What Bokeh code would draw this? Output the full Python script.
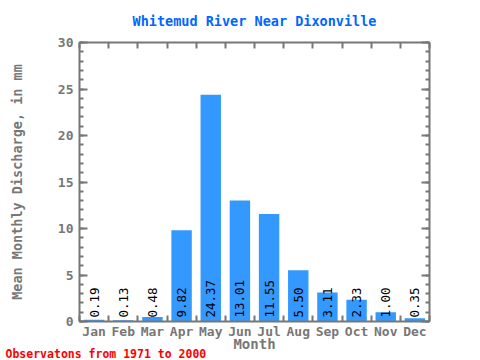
from bokeh.plotting import figure
from bokeh.models import LinearAxis, FixedTicker, Range1d, Title, ColumnDataSource
from bokeh.core.properties import value
from bokeh.embed import file_html
from bokeh.resources import INLINE
import math

months = ["Jan", "Feb", "Mar", "Apr", "May", "Jun", "Jul", "Aug", "Sep", "Oct", "Nov", "Dec"]
discharge = [0.19, 0.13, 0.48, 9.82, 24.37, 13.01, 11.55, 5.50, 3.11, 2.33, 1.00, 0.35]
y_ticks = [0, 5, 10, 15, 20, 25, 30]
title_text = "Whitemud River Near Dixonville"
x_label = "Month"
y_label = "Mean Monthly Discharge, in mm"
footer_text = "Observatons from 1971 to 2000"

FONT = "DejaVu Sans Mono"
AX = "#777777"

xs = list(range(1, len(months) + 1))
src = ColumnDataSource(dict(x=xs, y=discharge, lab=["%.2f" % v for v in discharge],
                            y0=[0] * len(xs)))

p = figure(width=480, height=360, output_backend="svg", toolbar_location=None,
           x_range=Range1d(0.5, 12.5), y_range=Range1d(0, 30),
           x_axis_type=None, y_axis_type=None,
           min_border_left=79, min_border_right=51, min_border_top=42, min_border_bottom=39)
p.outline_line_color = None
p.background_fill_color = "white"

p.title.text = title_text
p.title.align = "center"
p.title.vertical_align = "top"
p.title.text_font = FONT
p.title.text_font_style = "bold"
p.title.text_font_size = "13.5px"
p.title.text_color = "#0066ff"
p.title.standoff = 23

p.vbar(x="x", top="y", width=0.7, source=src, fill_color="#3399ff", line_color=None)
p.text(x="x", y="y0", text="lab", source=src, angle=math.pi / 2, text_align="left",
       text_baseline="middle", y_offset=-4, text_font=value(FONT), text_font_size="12.5px",
       text_color="black")

xt = FixedTicker(ticks=xs, minor_ticks=[i + 0.5 for i in range(0, 13)])
yt = FixedTicker(ticks=y_ticks, minor_ticks=list(range(0, 31)))

def style(ax, labels=True):
    ax.axis_line_color = AX
    ax.axis_line_width = 2
    ax.major_tick_line_color = AX
    ax.major_tick_line_width = 2
    ax.minor_tick_line_color = AX
    ax.minor_tick_line_width = 2
    ax.major_tick_out = 0
    ax.minor_tick_out = 0
    ax.major_label_text_font = FONT
    ax.major_label_text_font_style = "bold"
    ax.major_label_text_color = AX
    ax.major_label_text_font_size = "13px"
    ax.axis_label_text_font = FONT
    ax.axis_label_text_font_style = "bold"
    ax.axis_label_text_color = AX
    ax.axis_label_text_font_size = "13.5px"
    if not labels:
        ax.major_label_text_alpha = 0
        ax.major_label_text_font_size = "1px"
        ax.major_label_standoff = 0

bottom = LinearAxis(ticker=xt, major_label_overrides={i: m for i, m in zip(xs, months)})
style(bottom)
bottom.major_tick_in = 0
bottom.minor_tick_in = 6
bottom.major_label_standoff = 2
bottom.axis_label = x_label
bottom.axis_label_standoff = -6
bottom.axis_label_text_font_size = "14px"
p.add_layout(bottom, "below")

top = LinearAxis(ticker=xt)
style(top, labels=False)
top.major_tick_in = 0
top.minor_tick_in = 6
p.add_layout(top, "above")

left = LinearAxis(ticker=yt)
style(left)
left.major_tick_in = 8
left.minor_tick_in = 4
left.major_label_standoff = 6
left.axis_label = y_label
left.axis_label_standoff = 30
p.add_layout(left, "left")

right = LinearAxis(ticker=yt)
style(right, labels=False)
right.major_tick_in = 8
right.minor_tick_in = 4
p.add_layout(right, "right")

p.ygrid.ticker = FixedTicker(ticks=y_ticks[1:-1])
p.ygrid.grid_line_color = "#aaaaaa"
p.xgrid.visible = False

footer = Title(text=footer_text, align="left", offset=-74, standoff=-15,
               vertical_align="top",
               text_font=FONT, text_font_style="bold", text_font_size="11.5px",
               text_color="#ff0000")
p.add_layout(footer, "below")

open("out.html", "w").write(file_html(p, INLINE))
